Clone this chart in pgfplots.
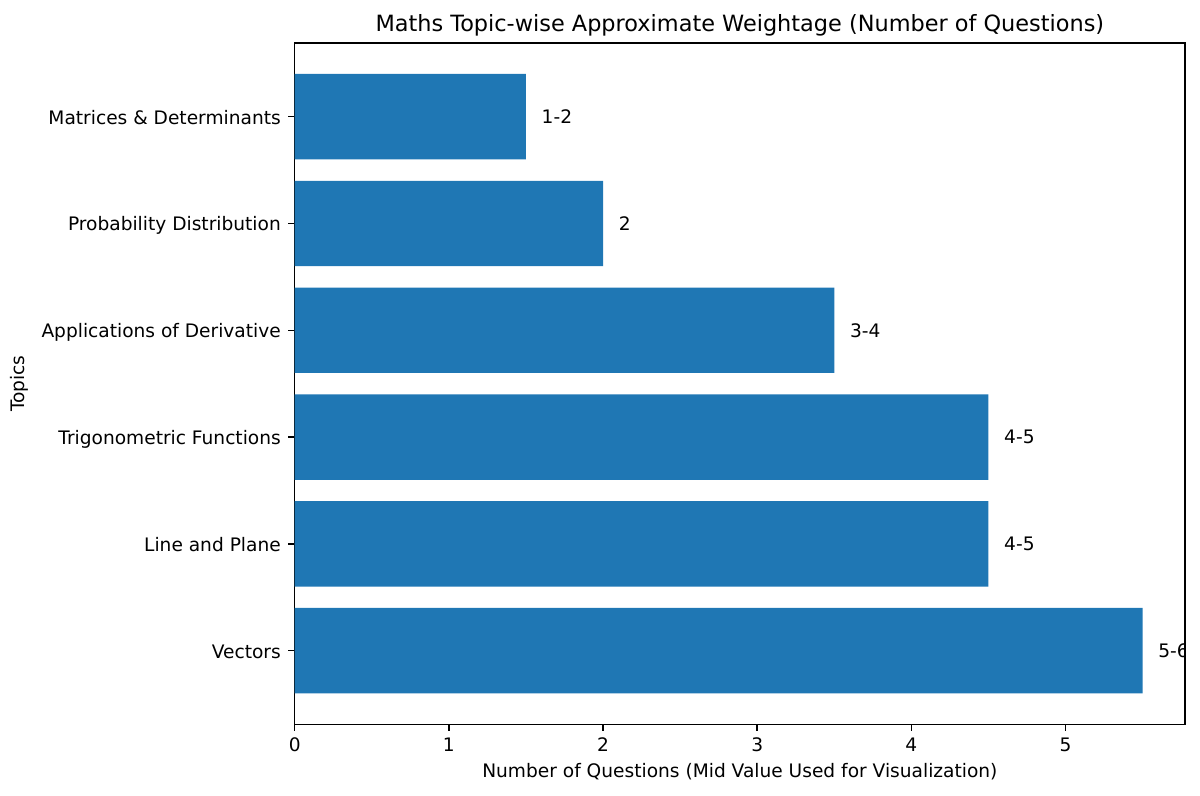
\documentclass[border=0pt]{standalone}
\usepackage{fontspec}
\setmainfont{DejaVu Sans}
\usepackage{pgfplots}
\pgfplotsset{compat=1.18}
\usetikzlibrary{calc}
\definecolor{mplblue}{HTML}{1F77B4}

\begin{document}
\begin{tikzpicture}
\begin{axis}[
    name=ax,
    scale only axis,
    width=445.15pt, height=340.65pt,
    xbar,
    bar width=0.8,
    xmin=0, xmax=5.775,
    ymin=-0.69, ymax=5.69,
    xtick={0,1,2,3,4,5},
    ytick={0,1,2,3,4,5},
    yticklabels={Vectors, Line and Plane, Trigonometric Functions, Applications of Derivative, Probability Distribution, Matrices \& Determinants},
    tick pos=left, tick align=outside,
    major tick length=3.26pt,
    every tick/.style={black, line width=0.74pt},
    axis line style={line width=0.74pt},
    /pgf/number format/assume math mode=true,
    tick label style={font=\fontsize{9.3}{11}\selectfont, inner sep=0pt},
    xticklabel style={anchor=north, yshift=-3.2pt},
    yticklabel style={anchor=mid east, xshift=-3.5pt, yshift=-1pt},
    every axis title shift=0pt,
    title={Maths Topic-wise Approximate Weightage (Number of Questions)},
    title style={font=\fontsize{11.2}{13}\selectfont, at={(axis description cs:0.5,1)}, anchor=base, inner sep=0pt, yshift=5.5pt},
    xlabel={Number of Questions (Mid Value Used for Visualization)},
    xlabel style={font=\fontsize{9.3}{11}\selectfont, at={(axis description cs:0.5,0)}, anchor=base, inner sep=0pt, yshift=-26.5pt},
    ylabel={Topics},
    ylabel style={font=\fontsize{9.3}{11}\selectfont, at={(axis description cs:-0.3089,0.5)}, anchor=center, inner sep=0pt},
    point meta=explicit symbolic,
    nodes near coords={\pgfplotspointmeta},
    nodes near coords style={font=\fontsize{9.3}{11}\selectfont, anchor=west, inner sep=0pt, xshift=7.7pt, black},
    clip marker paths=true,
]
\addplot[fill=mplblue, draw=none] coordinates {
    (5.5,0) [5-6]
    (4.5,1) [4-5]
    (4.5,2) [4-5]
    (3.5,3) [3-4]
    (2,4) [2]
    (1.5,5) [1-2]
};
\end{axis}
\pgfresetboundingbox
\path[use as bounding box] ($(ax.south west)+(-147.35pt,-35.35pt)$) rectangle ($(ax.north east)+(7.5pt,21.5pt)$);
\end{tikzpicture}
\end{document}
